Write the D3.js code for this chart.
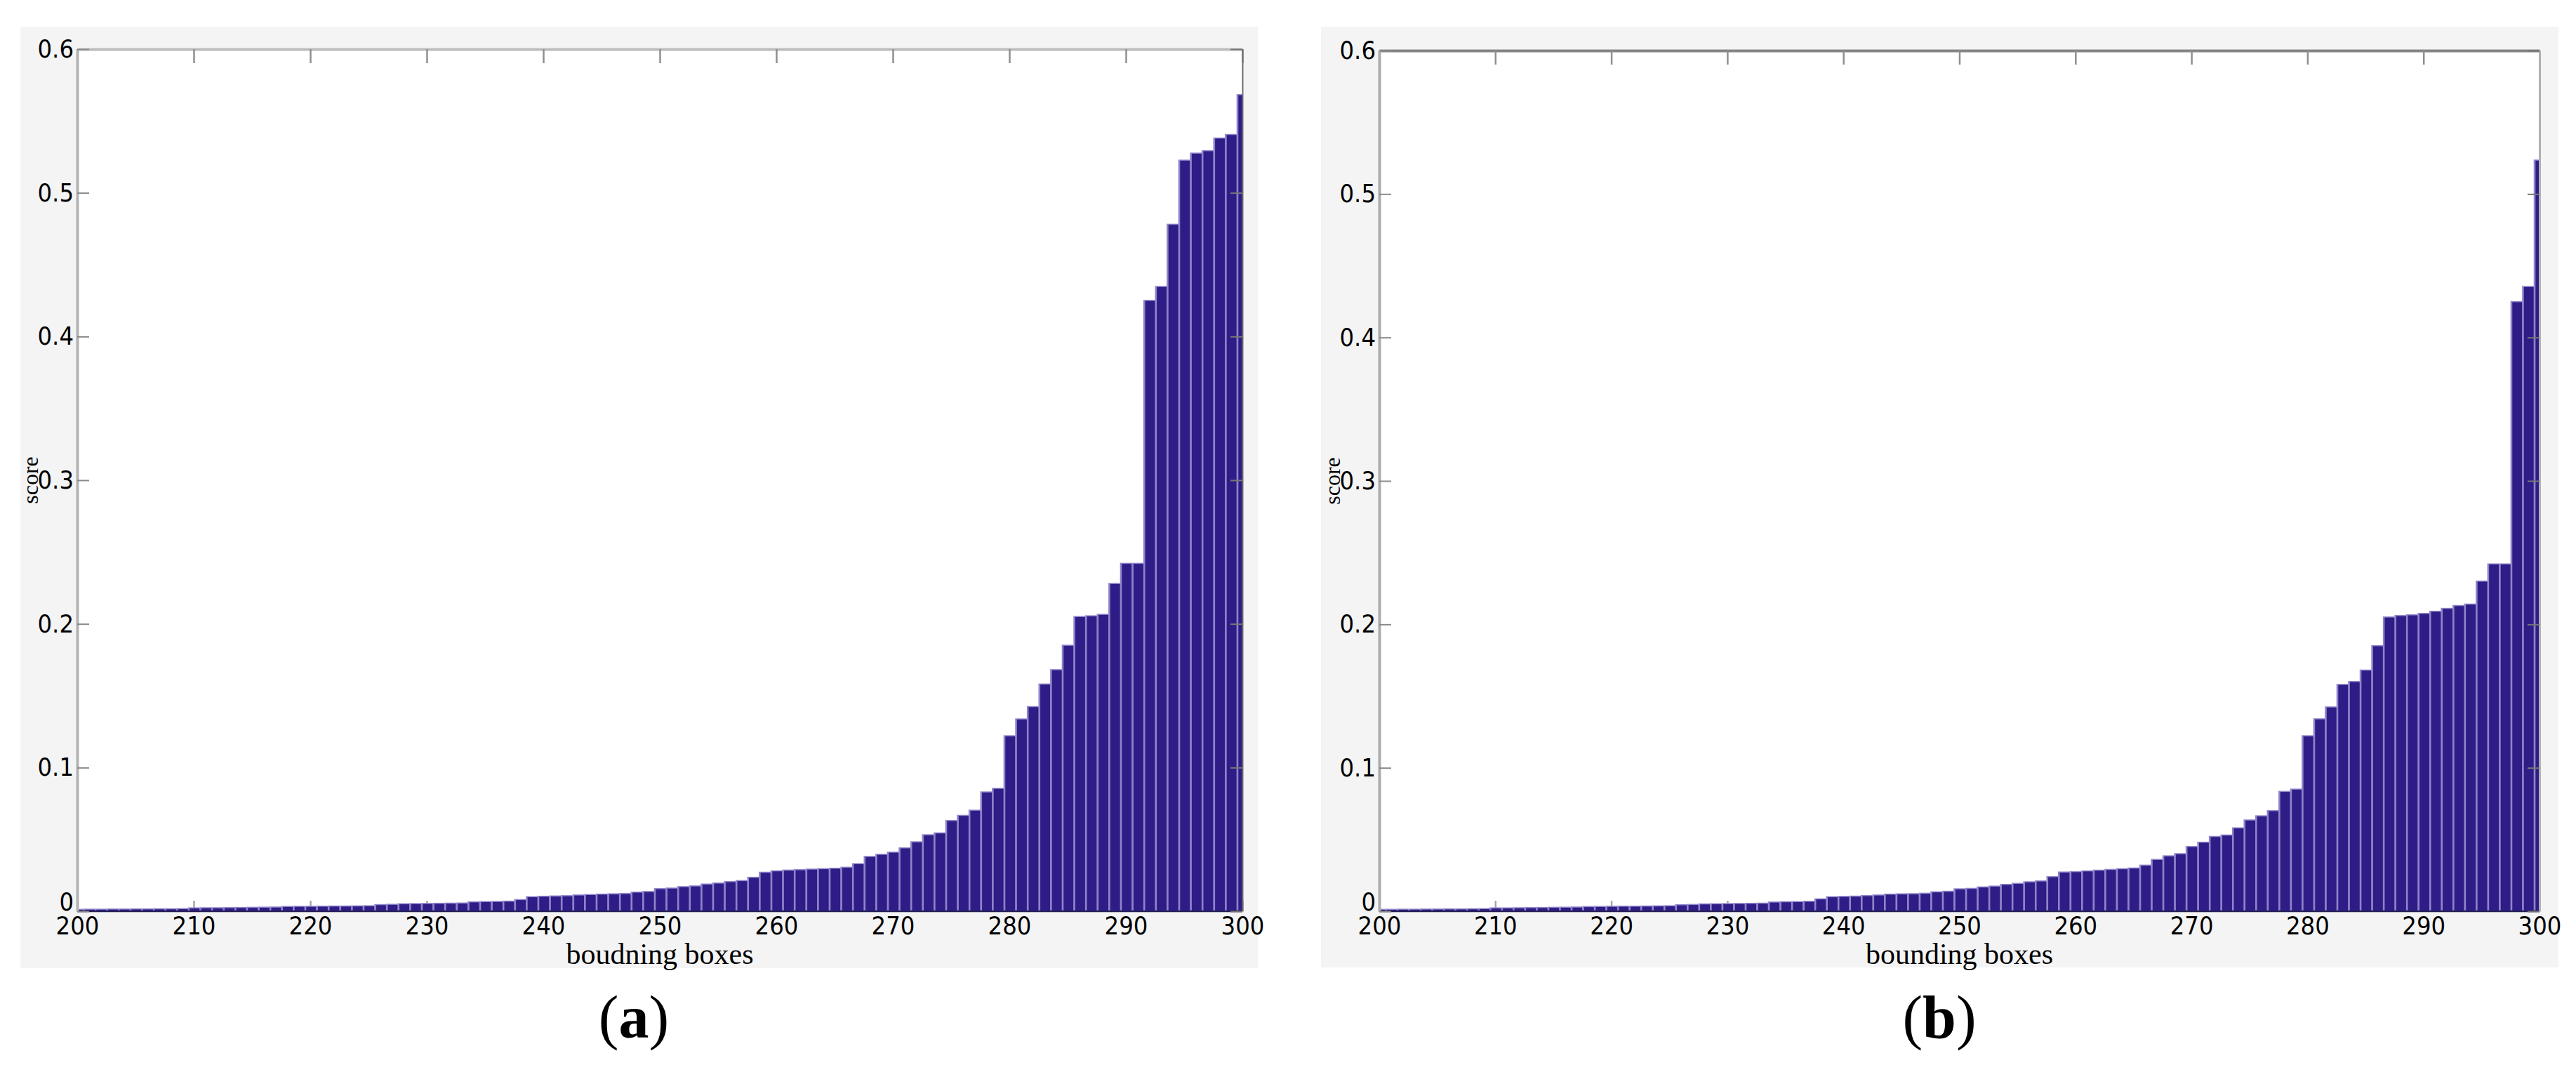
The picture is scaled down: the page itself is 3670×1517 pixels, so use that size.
<!DOCTYPE html>
<meta charset="utf-8">
<html>
<head>
  <title>score per bounding box</title>
  <script src="https://d3js.org/d3.v7.min.js"></script>
</head>
<style>
  body { margin: 0; background-color: #ffffff; }
  svg { display: block; }
  .tick text { font-family: 'Liberation Sans Narrow', 'DejaVu Sans Condensed', sans-serif; font-size: 36px; fill: #000; }
  .title { font-family: 'Liberation Serif', 'DejaVu Serif', serif; fill: #000; }
</style>
<body>
<script>

// bounding box index (x categories)
var boxes = [200, 201, 202, 203, 204, 205, 206, 207, 208, 209,
             210, 211, 212, 213, 214, 215, 216, 217, 218, 219,
             220, 221, 222, 223, 224, 225, 226, 227, 228, 229,
             230, 231, 232, 233, 234, 235, 236, 237, 238, 239,
             240, 241, 242, 243, 244, 245, 246, 247, 248, 249,
             250, 251, 252, 253, 254, 255, 256, 257, 258, 259,
             260, 261, 262, 263, 264, 265, 266, 267, 268, 269,
             270, 271, 272, 273, 274, 275, 276, 277, 278, 279,
             280, 281, 282, 283, 284, 285, 286, 287, 288, 289,
             290, 291, 292, 293, 294, 295, 296, 297, 298, 299, 300];

// panel (a) scores
var scoresA = [0.0012, 0.0013, 0.0013, 0.0014, 0.0014, 0.0015, 0.0015, 0.0016, 0.0016, 0.0017,
               0.0022, 0.0023, 0.0023, 0.0024, 0.0025, 0.0026, 0.0027, 0.0028, 0.0032, 0.0033,
               0.0033, 0.0034, 0.0035, 0.0035, 0.0036, 0.0037, 0.0045, 0.0047, 0.0051, 0.0052,
               0.0053, 0.0054, 0.0055, 0.0056, 0.0064, 0.0066, 0.0067, 0.0069, 0.0080, 0.0100,
               0.0103, 0.0105, 0.0107, 0.0112, 0.0115, 0.0118, 0.0120, 0.0122, 0.0132, 0.0136,
               0.0156, 0.0160, 0.0170, 0.0175, 0.0188, 0.0195, 0.0205, 0.0212, 0.0235, 0.0270,
               0.0280, 0.0285, 0.0288, 0.0292, 0.0295, 0.0298, 0.0305, 0.0330, 0.0380, 0.0395,
               0.0410, 0.0440, 0.0482, 0.0531, 0.0544, 0.0630, 0.0666, 0.0702, 0.0829, 0.0854,
               0.1220, 0.1337, 0.1423, 0.1580, 0.1680, 0.1850, 0.2050, 0.2055, 0.2065, 0.2280,
               0.2420, 0.2420, 0.4250, 0.4347, 0.4780, 0.5226, 0.5275, 0.5292, 0.5380, 0.5405, 0.5682];

// panel (b) scores
var scoresB = [0.0012, 0.0012, 0.0013, 0.0013, 0.0014, 0.0014, 0.0015, 0.0015, 0.0016, 0.0017,
               0.0022, 0.0022, 0.0023, 0.0024, 0.0025, 0.0026, 0.0027, 0.0028, 0.0031, 0.0032,
               0.0033, 0.0034, 0.0034, 0.0035, 0.0036, 0.0037, 0.0044, 0.0046, 0.0050, 0.0051,
               0.0052, 0.0053, 0.0054, 0.0055, 0.0063, 0.0065, 0.0066, 0.0068, 0.0085, 0.0100,
               0.0102, 0.0104, 0.0108, 0.0112, 0.0118, 0.0120, 0.0121, 0.0124, 0.0134, 0.0138,
               0.0155, 0.0158, 0.0168, 0.0174, 0.0186, 0.0193, 0.0204, 0.0210, 0.0240, 0.0272,
               0.0275, 0.0280, 0.0285, 0.0290, 0.0295, 0.0300, 0.0320, 0.0360, 0.0385, 0.0400,
               0.0450, 0.0480, 0.0520, 0.0530, 0.0580, 0.0635, 0.0664, 0.0700, 0.0834, 0.0850,
               0.1222, 0.1340, 0.1423, 0.1580, 0.1600, 0.1680, 0.1850, 0.2050, 0.2060, 0.2065,
               0.2075, 0.2090, 0.2110, 0.2130, 0.2140, 0.2300, 0.2420, 0.2420, 0.4248, 0.4354, 0.5235];

// axis ticks and labels
var xTicks = [200, 210, 220, 230, 240, 250, 260, 270, 280, 290, 300];
var xTickLabels = ["200", "210", "220", "230", "240", "250", "260", "270", "280", "290", "300"];
var yTicks = [0, 0.1, 0.2, 0.3, 0.4, 0.5, 0.6];
var yTickLabels = ["0", "0.1", "0.2", "0.3", "0.4", "0.5", "0.6"];

var svg = d3.select("body").append("svg")
    .attr("width", 3670)
    .attr("height", 1517);

// panel layout
var panels = [
  { id: "a", scores: scoresA, xTitle: "boudning boxes", tag: "a",
    bg: [29, 38, 1792, 1379], plot: [110, 70, 1770, 1298],
    topColor: "#bdbdbd", leftColor: "#b3b3b3", rightColor: "#6e6e6e", rightW: 2,
    scoreX: 44, tagX: 903 },
  { id: "b", scores: scoresB, xTitle: "bounding boxes", tag: "b",
    bg: [1882, 38, 3645, 1378], plot: [1965, 72, 3618, 1298],
    topColor: "#858585", leftColor: "#ababab", rightColor: "#b0b0b0", rightW: 3,
    scoreX: 1899, tagX: 2763 }
];

panels.forEach(function (p) {
  var x0 = p.plot[0], y0 = p.plot[1], x1 = p.plot[2], y1 = p.plot[3];

  var x = d3.scaleLinear().domain([200, 300]).range([x0, x1]);
  var y = d3.scaleLinear().domain([0, 0.6]).range([y1, y0]);

  // light gray figure background
  svg.append("rect")
      .attr("x", p.bg[0]).attr("y", p.bg[1])
      .attr("width", p.bg[2] - p.bg[0]).attr("height", p.bg[3] - p.bg[1])
      .attr("fill", "#f4f4f4");

  // white axes area
  svg.append("rect")
      .attr("x", x0).attr("y", y0)
      .attr("width", x1 - x0).attr("height", y1 - y0)
      .attr("fill", "#ffffff");

  svg.append("clipPath").attr("id", "clip-" + p.id)
    .append("rect")
      .attr("x", x0).attr("y", y0)
      .attr("width", x1 - x0).attr("height", y1 - y0);

  // bottom ticks sit under the bars
  svg.append("g")
      .attr("transform", "translate(0," + y1 + ")")
      .call(d3.axisBottom(x).tickValues(xTicks).tickSizeInner(-15).tickSizeOuter(0).tickPadding(7)
            .tickFormat(function (d, i) { return xTickLabels[i]; }))
      .call(function (g) { g.select(".domain").remove(); })
      .call(function (g) { g.selectAll("line").attr("stroke", "#a5a5a5").attr("stroke-width", 2.5); });

  var bars = svg.append("g").attr("clip-path", "url(#clip-" + p.id + ")");

  // lavender edge then dark body
  bars.selectAll("rect.edge")
      .data(p.scores)
      .enter()
        .append("rect")
        .attr("class", "edge")
        .attr("x", function (d, i) { return x(boxes[i] - 0.5); })
        .attr("width", function (d, i) { return x(boxes[i] + 0.5) - x(boxes[i] - 0.5); })
        .attr("y", function (d) { return y(d) - 1; })
        .attr("height", function (d) { return y1 - y(d) + 1; })
        .attr("fill", "#8d84c9");

  bars.selectAll("rect.body")
      .data(p.scores)
      .enter()
        .append("rect")
        .attr("class", "body")
        .attr("x", function (d, i) { return x(boxes[i] - 0.5) + 2.6; })
        .attr("width", function (d, i) { return x(boxes[i] + 0.5) - x(boxes[i] - 0.5) - 2.6; })
        .attr("y", function (d) { return y(d) + 0.5; })
        .attr("height", function (d) { return Math.max(0, y1 - y(d) - 0.5); })
        .attr("fill", "#2f1c87");

  // x axis line
  svg.append("line")
      .attr("x1", x0).attr("x2", x1).attr("y1", y1).attr("y2", y1)
      .attr("stroke", "#26215a").attr("stroke-width", 2.5);

  // top axis, ticks only
  svg.append("g")
      .attr("transform", "translate(0," + y0 + ")")
      .call(d3.axisTop(x).tickValues(xTicks).tickSizeInner(-20).tickSizeOuter(0).tickFormat(""))
      .call(function (g) { g.select(".domain").attr("stroke", p.topColor).attr("stroke-width", 4); })
      .call(function (g) { g.selectAll("line").attr("stroke", "#8f8f8f").attr("stroke-width", 2.5); });

  // left axis with labels
  svg.append("g")
      .attr("transform", "translate(" + x0 + ",0)")
      .call(d3.axisLeft(y).tickValues(yTicks).tickSizeInner(-17).tickSizeOuter(0).tickPadding(5)
            .tickFormat(function (d, i) { return yTickLabels[i]; }))
      .call(function (g) { g.select(".domain").attr("stroke", p.leftColor).attr("stroke-width", 4); })
      .call(function (g) { g.selectAll("line").attr("stroke", "#8a8a8a").attr("stroke-width", 2); })
      .call(function (g) { g.selectAll("text").filter(function (d) { return d === 0; }).attr("dy", "-0.05em"); });

  // right axis, ticks only
  svg.append("g")
      .attr("transform", "translate(" + x1 + ",0)")
      .call(d3.axisRight(y).tickValues(yTicks).tickSizeInner(-17).tickSizeOuter(0).tickFormat(""))
      .call(function (g) { g.select(".domain").attr("stroke", p.rightColor).attr("stroke-width", p.rightW); })
      .call(function (g) { g.selectAll("line").attr("stroke", "#777").attr("stroke-width", 2); });

  // axis titles
  svg.append("text")
      .attr("class", "title")
      .attr("x", (x0 + x1) / 2)
      .attr("y", 1373)
      .attr("text-anchor", "middle")
      .attr("font-size", 42)
      .text(p.xTitle);

  svg.append("text")
      .attr("class", "title")
      .attr("transform", "translate(" + p.scoreX + "," + ((y0 + y1) / 2) + ") rotate(-90)")
      .attr("text-anchor", "middle")
      .attr("dy", "0.3em")
      .attr("font-size", 32)
      .text("score");

  // panel tag (a) / (b)
  var tag = svg.append("text")
      .attr("class", "title")
      .attr("x", p.tagX)
      .attr("y", 1478)
      .attr("text-anchor", "middle")
      .attr("font-size", 86);
  tag.append("tspan").text("(");
  tag.append("tspan").attr("font-weight", "bold").text(p.tag);
  tag.append("tspan").text(")");
});

</script>
</body>
</html>
